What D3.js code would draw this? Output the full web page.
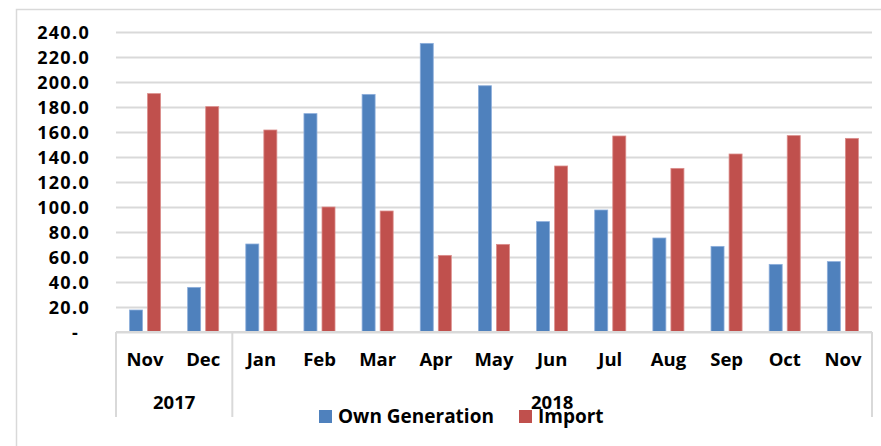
<!DOCTYPE html>
<html>
<head>
<meta charset="utf-8">
<script src="https://cdn.jsdelivr.net/npm/d3@7"></script>
<style>
  body { margin: 0; background: #fff; }
  text { font-family: "Open Sans", "Liberation Sans", sans-serif; font-weight: bold; fill: #000; }
</style>
</head>
<body>
<div id="chart"></div>
<script>
'use strict';

// data
const months = ["Nov", "Dec", "Jan", "Feb", "Mar", "Apr", "May", "Jun", "Jul", "Aug", "Sep", "Oct", "Nov"];
const years = [{label: "2017", from: 0, to: 2}, {label: "2018", from: 2, to: 13}];
const seriesNames = ["Own Generation", "Import"];
const ownGeneration = [17.6, 35.7, 70.4, 174.7, 190.1, 230.9, 197.0, 88.3, 97.6, 75.2, 68.5, 54.1, 56.3];
const importValues = [190.7, 180.3, 161.6, 100.0, 96.8, 61.3, 70.1, 132.8, 156.8, 130.9, 142.4, 157.1, 154.9];
const yTicks = [0, 20, 40, 60, 80, 100, 120, 140, 160, 180, 200, 220, 240];

const Color = {
  own: "#4F81BD",
  imp: "#C0504D",
  grid: "#D9D9D9",
};

const width = 881, height = 446;
const plot = {left: 116, right: 872, top: 32, bottom: 332};

const svg = d3.select("#chart")
  .append("svg")
    .attr("width", width)
    .attr("height", height);

// outer frame (only top/left visible in the crop)
svg.append("path")
  .attr("d", `M16.5,${height} V9.5 H${width}`)
  .attr("fill", "none")
  .attr("stroke", Color.grid)
  .attr("stroke-width", 1.5);

const x0 = d3.scaleBand()
  .domain(d3.range(months.length))
  .range([plot.left, plot.right]);

const x1 = d3.scaleBand()
  .domain(seriesNames)
  .range([x0.bandwidth() * 0.232, x0.bandwidth() * 0.766])
  .paddingInner(0.28);

const y = d3.scaleLinear()
  .domain([0, 240])
  .range([plot.bottom, plot.top]);

// y axis + gridlines
const yAxis = svg.append("g")
  .attr("transform", `translate(${plot.left},0)`)
  .call(d3.axisLeft(y)
    .tickValues(yTicks)
    .tickSize(-(plot.right - plot.left))
    .tickPadding(27)
    .tickFormat(d => d === 0 ? "-" : d.toFixed(1)));
yAxis.select(".domain").remove();
yAxis.selectAll(".tick line")
  .attr("stroke", Color.grid)
  .attr("stroke-width", 2);
yAxis.selectAll(".tick text")
  .attr("font-size", 18)
  .attr("font-family", null)
  .attr("letter-spacing", 1.3)
  .attr("dy", "0.36em")
  .attr("x", d => d === 0 ? -37 : -26);

// bars
const rows = months.map((m, i) => ({i, values: [ownGeneration[i], importValues[i]]}));
const groups = svg.append("g")
  .selectAll("g")
  .data(rows)
  .join("g")
    .attr("transform", d => `translate(${x0(d.i)},0)`);

groups.selectAll("rect")
  .data(d => d.values.map((v, k) => ({name: seriesNames[k], v})))
  .join("rect")
    .attr("x", d => x1(d.name))
    .attr("y", d => y(d.v))
    .attr("width", x1.bandwidth())
    .attr("height", d => y(0) - y(d.v))
    .attr("fill", d => d.name === seriesNames[0] ? Color.own : Color.imp)
    .attr("stroke", d => d.name === seriesNames[0] ? "#8DAEDB" : "#DB8D8B")
    .attr("stroke-width", 0.8);

// category axis: baseline + group separators
svg.append("line")
  .attr("x1", plot.left).attr("x2", plot.right)
  .attr("y1", plot.bottom).attr("y2", plot.bottom)
  .attr("stroke", Color.grid)
  .attr("stroke-width", 2);

const separators = [x0(0), x0(years[1].from), plot.right];
svg.append("g")
  .selectAll("line")
  .data(separators)
  .join("line")
    .attr("x1", d => d).attr("x2", d => d)
    .attr("y1", plot.bottom).attr("y2", 417)
    .attr("stroke", Color.grid)
    .attr("stroke-width", 2);

// month labels
svg.append("g")
  .selectAll("text")
  .data(months)
  .join("text")
    .attr("x", (d, i) => x0(i) + x0.bandwidth() / 2)
    .attr("y", 366)
    .attr("text-anchor", "middle")
    .attr("font-size", 18.5)
    .text(d => d);

// year labels
svg.append("g")
  .selectAll("text")
  .data(years)
  .join("text")
    .attr("x", d => (x0(d.from) + (d.to >= months.length ? plot.right : x0(d.to))) / 2)
    .attr("y", 409)
    .attr("text-anchor", "middle")
    .attr("font-size", 18.5)
    .text(d => d.label);

// legend
const legendX = [319, 519];
const legend = svg.append("g")
  .selectAll("g")
  .data(seriesNames)
  .join("g")
    .attr("transform", (d, i) => `translate(${legendX[i]},410)`);
legend.append("rect")
  .attr("width", 13)
  .attr("height", 13)
  .attr("fill", (d, i) => i === 0 ? Color.own : Color.imp);
legend.append("text")
  .attr("x", 19)
  .attr("y", 12.5)
  .attr("font-size", 19)
  .text(d => d);
</script>
</body>
</html>
